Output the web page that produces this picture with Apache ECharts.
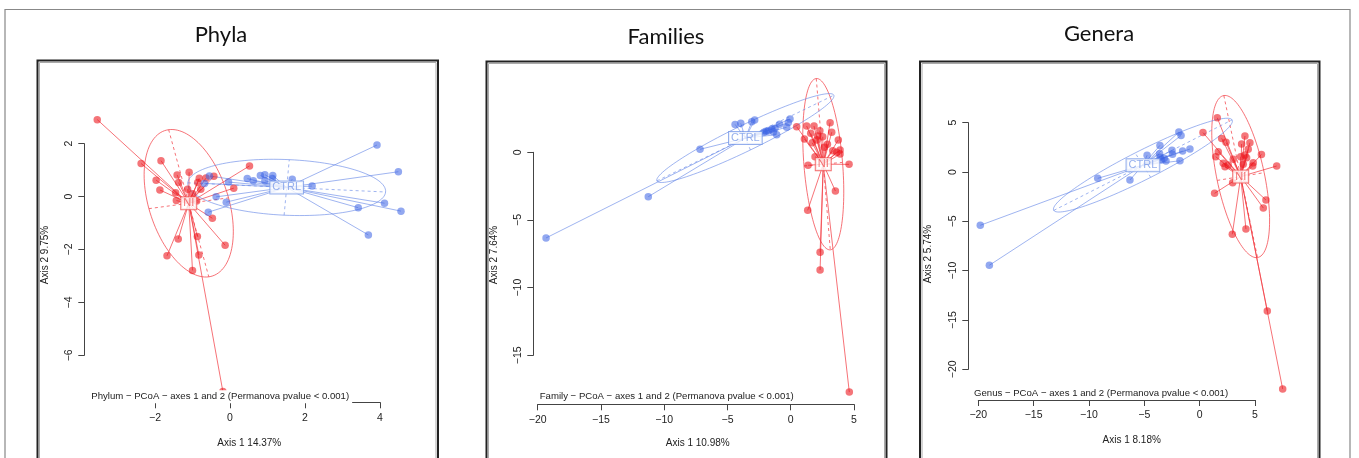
<!DOCTYPE html>
<html><head><meta charset="utf-8">
<script src="https://cdn.jsdelivr.net/npm/echarts@6/dist/echarts.min.js"></script>
<style>html,body{margin:0;padding:0;background:#fff}#c{width:1359px;height:458px}</style>
</head><body><div id="c"></div>
<script>
// ---------- DATA ----------
const panelTitles = ['Phyla', 'Families', 'Genera'];
const subTitles = [
  'Phylum \u2212 PCoA \u2212 axes 1 and 2 (Permanova pvalue < 0.001)',
  'Family \u2212 PCoA \u2212 axes 1 and 2 (Permanova pvalue < 0.001)',
  'Genus \u2212 PCoA \u2212 axes 1 and 2 (Permanova pvalue < 0.001)'
];
const xAxisTitles = ['Axis 1 14.37%', 'Axis 1 10.98%', 'Axis 1 8.18%'];
const yAxisTitles = ['Axis 2 9.75%', 'Axis 2 7.64%', 'Axis 2 5.74%'];
const groupNames = ['NI', 'CTRL'];
// [min, max, interval] of tick labels
const xTickRange = [[-2, 4, 2], [-20, 5, 5], [-20, 5, 5]];
const yTickRange = [[-6, 2, 2], [-15, 0, 5], [-20, 5, 5]];

const phylaNI = [[-3.54,2.91],[-2.37,1.25],[-1.84,1.36],[-1.97,0.62],[-1.87,0.25],[-1.41,0.82],[-1.37,0.53],[-1.09,0.92],[-1.45,0.15],[-1.43,-0.15],[-1.13,0.28],[-1.0,0.11],[-0.86,0.53],[-0.82,0.69],[-0.78,0.28],[-0.64,0.70],[-0.43,0.77],[-0.89,-0.17],[0.52,1.16],[0.10,0.32],[-0.47,-0.82],[-1.38,-1.60],[-0.87,-1.51],[-0.13,-1.84],[-1.68,-2.24],[-0.83,-2.21],[-1.0,-2.79],[-0.19,-7.37]];
const phylaCTRL = [[-0.55,0.78],[-0.68,0.50],[-0.04,0.55],[-0.37,-0.01],[-0.10,-0.21],[-0.58,-0.59],[0.46,0.68],[0.62,0.60],[0.81,0.80],[0.93,0.83],[0.93,0.60],[1.14,0.80],[1.13,0.68],[1.66,0.66],[2.19,0.40],[3.42,-0.42],[3.69,-1.45],[4.12,-0.25],[4.56,-0.55],[4.49,0.94],[3.92,1.95]];

const familiesNI = [[0.47,1.89],[1.26,1.94],[1.84,1.94],[3.11,2.19],[1.08,0.98],[1.58,1.40],[2.13,1.20],[2.06,0.91],[2.53,1.15],[3.24,1.48],[3.76,0.91],[2.66,0.37],[3.32,0.12],[3.64,0.00],[3.90,0.17],[3.90,-0.13],[1.92,-0.32],[1.37,-0.96],[4.61,-0.89],[3.53,-2.86],[1.34,-4.29],[2.32,-7.39],[2.32,-8.70],[4.63,-17.72],[2.30,1.60],[1.70,0.70],[2.90,0.60]];
const familiesCTRL = [[-19.34,-6.33],[-11.26,-3.28],[-7.17,0.22],[-4.40,2.06],[-3.95,2.14],[-3.08,2.26],[-2.85,2.39],[-2.11,1.48],[-1.95,1.55],[-1.77,1.57],[-1.50,1.72],[-1.37,1.52],[-1.24,1.77],[-1.11,1.30],[-0.88,2.07],[-0.32,1.85],[-0.19,2.20],[-0.06,2.46]];

const generaNI = [[1.59,5.5],[0.30,4.0],[1.99,3.41],[2.38,3.01],[4.09,3.65],[4.54,2.97],[3.79,2.84],[4.39,2.30],[4.09,1.72],[5.58,1.77],[1.68,2.06],[1.45,1.55],[3.04,1.29],[3.70,1.55],[4.24,1.45],[4.84,0.94],[4.79,0.61],[3.94,0.78],[2.13,0.88],[2.29,0.54],[2.58,0.71],[6.96,0.61],[2.98,-1.08],[1.35,-2.16],[5.99,-2.84],[5.75,-3.65],[4.18,-5.78],[2.95,-6.31],[6.11,-14.08],[7.50,-21.99]];
const generaCTRL = [[-19.82,-5.40],[-19.00,-9.45],[-9.21,-0.64],[-6.30,-0.81],[-4.75,1.70],[-3.59,2.70],[-3.62,1.85],[-3.57,1.50],[-3.45,1.25],[-3.20,1.40],[-3.04,1.12],[-2.50,2.20],[-2.45,1.80],[-1.88,4.05],[-1.68,3.70],[-1.78,1.14],[-1.54,2.13],[-0.88,2.33]];

// ---------- LAYOUT / STYLE ----------
const panelData = [[phylaNI, phylaCTRL], [familiesNI, familiesCTRL], [generaNI, generaCTRL]];
const gridBoxes = [
  {left: 155, top: 143.7, width: 225, height: 211.6, yOff: 70.7, xOff: 47},
  {left: 537.7, top: 152.3, width: 316.3, height: 203, yOff: 4.4, xOff: 49},
  {left: 978.3, top: 122.7, width: 276.7, height: 246.6, yOff: 10, xOff: 30.7}
];
const frames = [[37.5, 60.5, 400.5], [486.5, 61.5, 400], [920, 61.5, 399.5]];
const titlePos = [[221, 35], [666, 37], [1099, 34]];
const subPos = [[88.3, 396.7], [536.7, 396.7], [971, 393.3]];
const xTitlePos = [[249.3, 443.3], [697.7, 443.3], [1131.7, 440]];
const yTitlePos = [[45, 255], [494, 255], [928.3, 254]];

const ptColor = ['rgba(236,22,28,0.74)', 'rgba(60,100,228,0.7)'];
const lnColor = ['rgba(242,60,66,0.72)', 'rgba(95,130,230,0.6)'];
const lblColor = ['#f05050', '#7b9be8'];
const FONT = 'Liberation Sans, Arial, sans-serif';

function stats(pts) {
  const n = pts.length;
  let cx = 0, cy = 0;
  pts.forEach(p => { cx += p[0]; cy += p[1]; });
  cx /= n; cy /= n;
  let sxx = 0, syy = 0, sxy = 0;
  pts.forEach(p => { const dx = p[0] - cx, dy = p[1] - cy; sxx += dx*dx; syy += dy*dy; sxy += dx*dy; });
  sxx /= n; syy /= n; sxy /= n;
  const tr = (sxx + syy) / 2, d = Math.sqrt(((sxx - syy) / 2) ** 2 + sxy * sxy);
  const l1 = tr + d, l2 = Math.max(tr - d, 0);
  const th = 0.5 * Math.atan2(2 * sxy, sxx - syy);
  return {cx, cy, a: 1.5 * Math.sqrt(l1), b: 1.5 * Math.sqrt(l2), th};
}

function makeRender(pts, gi) {
  const s = stats(pts);
  return function (params, api) {
    const c = api.coord([s.cx, s.cy]);
    const children = [];
    const ct = Math.cos(s.th), st = Math.sin(s.th);
    const ell = [];
    for (let k = 0; k <= 120; k++) {
      const t = k / 120 * 2 * Math.PI;
      const x = s.cx + s.a * Math.cos(t) * ct - s.b * Math.sin(t) * st;
      const y = s.cy + s.a * Math.cos(t) * st + s.b * Math.sin(t) * ct;
      ell.push(api.coord([x, y]));
    }
    children.push({type: 'polyline', shape: {points: ell}, style: {stroke: lnColor[gi], fill: null, lineWidth: 1}});
    const ax = [[s.a * ct, s.a * st], [-s.b * st, s.b * ct]];
    ax.forEach(v => {
      const p1 = api.coord([s.cx - v[0], s.cy - v[1]]), p2 = api.coord([s.cx + v[0], s.cy + v[1]]);
      children.push({type: 'line', shape: {x1: p1[0], y1: p1[1], x2: p2[0], y2: p2[1]},
        style: {stroke: lnColor[gi], lineWidth: 1, lineDash: [3, 3]}});
    });
    pts.forEach(p => {
      const q = api.coord(p);
      children.push({type: 'line', shape: {x1: c[0], y1: c[1], x2: q[0], y2: q[1]},
        style: {stroke: lnColor[gi], lineWidth: 1}});
    });
    return {type: 'group', children};
  };
}

const grid = [], xAxis = [], yAxis = [], series = [], graphic = [];
const fmt = v => String(v).replace('-', '\u2212');

panelData.forEach((groups, i) => {
  const g = gridBoxes[i];
  grid.push({left: g.left, top: g.top, width: g.width, height: g.height, containLabel: false});
  xAxis.push({gridIndex: i, type: 'value', min: xTickRange[i][0], max: xTickRange[i][1], interval: xTickRange[i][2],
    position: 'bottom', offset: g.xOff,
    axisLine: {show: true, onZero: false, lineStyle: {color: '#444', width: 1}},
    axisTick: {show: true, length: 6, lineStyle: {color: '#444'}},
    axisLabel: {fontSize: 10.5, color: '#222', margin: 10, fontFamily: FONT, formatter: fmt},
    splitLine: {show: false}});
  yAxis.push({gridIndex: i, type: 'value', min: yTickRange[i][0], max: yTickRange[i][1], interval: yTickRange[i][2],
    position: 'left', offset: g.yOff,
    axisLine: {show: true, onZero: false, lineStyle: {color: '#444', width: 1}},
    axisTick: {show: true, length: 6, lineStyle: {color: '#444'}},
    axisLabel: {fontSize: 10.5, color: '#222', margin: 10, rotate: 90, fontFamily: FONT, formatter: fmt},
    splitLine: {show: false}});
  groups.forEach((pts, gi) => {
    const s = stats(pts);
    series.push({type: 'custom', xAxisIndex: i, yAxisIndex: i, clip: false, silent: true, z: 2,
      renderItem: makeRender(pts, gi), data: [[s.cx, s.cy]], encode: {x: 0, y: 1}});
  });
  groups.forEach((pts, gi) => {
    series.push({type: 'scatter', xAxisIndex: i, yAxisIndex: i, clip: false, silent: true, z: 3,
      symbolSize: 7.5, itemStyle: {color: ptColor[gi]}, data: pts});
  });
  groups.forEach((pts, gi) => {
    const s = stats(pts);
    series.push({type: 'scatter', xAxisIndex: i, yAxisIndex: i, clip: false, silent: true, z: 4,
      symbolSize: 1, itemStyle: {color: 'rgba(0,0,0,0)'}, data: [[s.cx, s.cy]],
      label: {show: true, position: 'inside', formatter: groupNames[gi], color: lblColor[gi], fontSize: 11,
        fontFamily: FONT, backgroundColor: '#fff', borderColor: lblColor[gi], borderWidth: 1, padding: [1, 2, 0, 2]}});
  });
  // frame
  const f = frames[i];
  graphic.push({type: 'rect', shape: {x: f[0], y: f[1], width: f[2], height: 420}, style: {stroke: '#222', lineWidth: 2, fill: null}, z: 1});
  graphic.push({type: 'rect', shape: {x: f[0] + 2, y: f[1] + 2, width: f[2] - 4, height: 420}, style: {stroke: '#aaa', lineWidth: 1, fill: null}, z: 1});
  graphic.push({type: 'text', x: titlePos[i][0], y: titlePos[i][1], style: {text: panelTitles[i], font: '22px Lato, "Open Sans", sans-serif',
    fill: '#111', textAlign: 'center', textVerticalAlign: 'middle'}, z: 5});
  graphic.push({type: 'text', x: subPos[i][0], y: subPos[i][1], style: {text: subTitles[i], fontSize: 9.6, fontFamily: FONT,
    fill: '#222', textAlign: 'left', textVerticalAlign: 'middle', backgroundColor: '#fff', padding: [1, 3, 2, 3]}, z: 50});
  graphic.push({type: 'text', x: xTitlePos[i][0], y: xTitlePos[i][1], style: {text: xAxisTitles[i], fontSize: 10, fontFamily: FONT,
    fill: '#222', textAlign: 'center', textVerticalAlign: 'middle'}, z: 5});
  graphic.push({type: 'text', x: yTitlePos[i][0], y: yTitlePos[i][1], rotation: Math.PI / 2, style: {text: yAxisTitles[i], fontSize: 10, fontFamily: FONT,
    fill: '#222', textAlign: 'center', textVerticalAlign: 'middle'}, z: 5});
});
graphic.push({type: 'rect', shape: {x: 5, y: 9.5, width: 1345, height: 460}, style: {stroke: '#888', lineWidth: 1.2, fill: null}, z: 1});

const chart = echarts.init(document.getElementById('c'), null, {renderer: 'canvas'});
chart.setOption({animation: false, backgroundColor: '#fff', grid, xAxis, yAxis, series, graphic});
</script>
</body></html>
